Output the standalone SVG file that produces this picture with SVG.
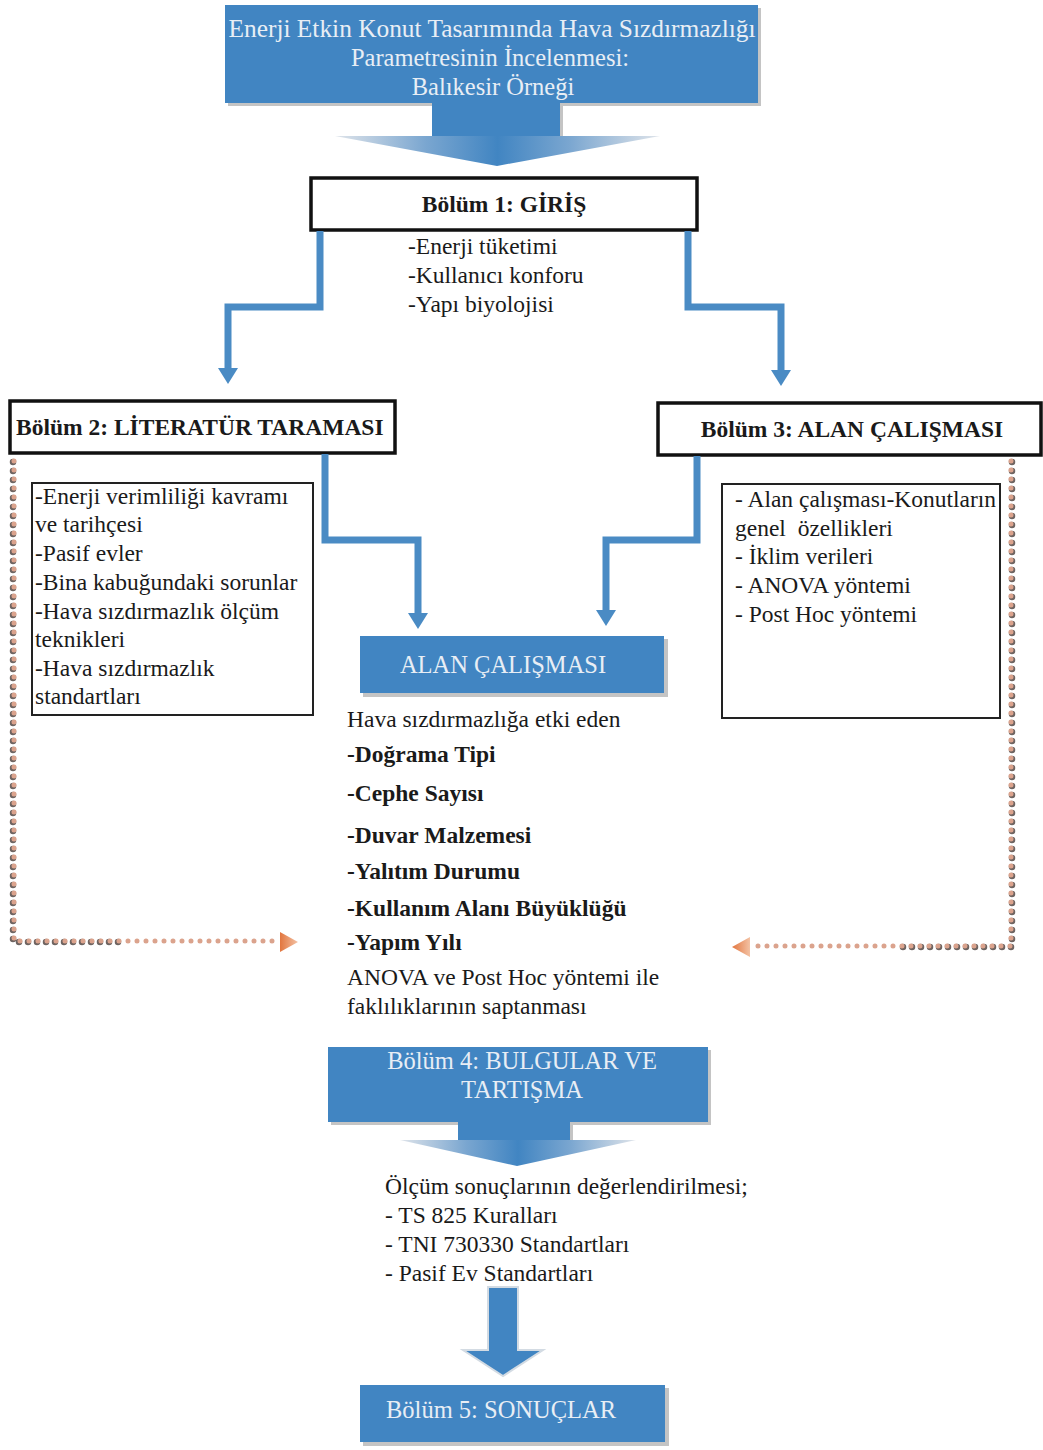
<svg xmlns="http://www.w3.org/2000/svg" width="1043" height="1450" viewBox="0 0 1043 1450">
<style>
  text { font-family: "Liberation Serif", "Times New Roman", serif; fill: #1a1a1a; }
  .t { font-size: 23.5px; }
  .b { font-size: 23.5px; font-weight: bold; }
  .lt { font-size: 24.5px; fill: #e8eef5; }
  .blk { fill: #ffffff; stroke: #111111; stroke-width: 3.5; }
  .thin { fill: #ffffff; stroke: #222222; stroke-width: 2; }
  .blue { fill: #4185c2; }
  .shadow { fill: #c4c4c4; }
  .conn { fill: none; stroke: #4a8bc4; stroke-width: 7; stroke-linejoin: miter; }
  .dotdark { fill: none; stroke: #6e6461; stroke-width: 6.5; stroke-linecap: round; stroke-dasharray: 0 9; }
  .dotlight { fill: none; stroke: #dba38d; stroke-width: 5; stroke-linecap: round; stroke-dasharray: 0 9; }
</style>
<defs>
  <marker id="ah" markerWidth="22" markerHeight="22" refX="2" refY="11" orient="auto" markerUnits="userSpaceOnUse">
    <path d="M0,1 L16,11 L0,21 z" fill="#4a8bc4"/>
  </marker>
  <linearGradient id="headg" x1="0" y1="0" x2="1" y2="0">
    <stop offset="0" stop-color="#dfe4ea"/>
    <stop offset="0.28" stop-color="#7aa6d0"/>
    <stop offset="0.5" stop-color="#4185c2"/>
    <stop offset="0.72" stop-color="#7aa6d0"/>
    <stop offset="1" stop-color="#dfe4ea"/>
  </linearGradient>
  <linearGradient id="orng" x1="0" y1="0" x2="1" y2="0">
    <stop offset="0" stop-color="#e2763f"/>
    <stop offset="1" stop-color="#f3c2a4"/>
  </linearGradient>
  <linearGradient id="orngL" x1="1" y1="0" x2="0" y2="0">
    <stop offset="0" stop-color="#f3c2a4"/>
    <stop offset="1" stop-color="#e2763f"/>
  </linearGradient>
  <clipPath id="rclip"><rect x="722" y="484" width="278" height="234"/></clipPath>
</defs>

<g id="title">
  <path class="shadow" d="M228,8 H761 V106 H563 V139 H436 V106 H228 Z"/>
  <path class="blue" d="M225,5 H758 V103 H560 V136 H432 V103 H225 Z"/>
  <path d="M335,136 H660 L497,166 Z" fill="url(#headg)"/>
  <text class="lt" x="492" y="37" text-anchor="middle" textLength="527" lengthAdjust="spacingAndGlyphs">Enerji Etkin Konut Tasarımında Hava Sızdırmazlığı</text>
  <text class="lt" x="490" y="66" text-anchor="middle">Parametresinin İncelenmesi:</text>
  <text class="lt" x="493" y="95" text-anchor="middle">Balıkesir Örneği</text>
</g>

<g id="bolum1">
  <rect class="blk" x="311" y="178" width="386" height="52"/>
  <text class="b" x="504" y="212" text-anchor="middle">Bölüm 1: GİRİŞ</text>
  <text class="t" x="408" y="254">-Enerji tüketimi</text>
  <text class="t" x="408" y="283">-Kullanıcı konforu</text>
  <text class="t" x="408" y="312">-Yapı biyolojisi</text>
</g>

<g id="bolum2">
  <rect class="blk" x="10" y="401" width="385" height="52"/>
  <text class="b" x="16" y="435">Bölüm 2: LİTERATÜR TARAMASI</text>
</g>

<g id="bolum3">
  <rect class="blk" x="658" y="403" width="383" height="52"/>
  <text class="b" x="852" y="437" text-anchor="middle">Bölüm 3: ALAN ÇALIŞMASI</text>
</g>

<g id="literatur-list">
  <rect class="thin" x="32" y="483" width="281" height="232"/>
  <text class="t" x="35" y="504">-Enerji verimliliği kavramı</text>
  <text class="t" x="35" y="532">ve tarihçesi</text>
  <text class="t" x="35" y="561">-Pasif evler</text>
  <text class="t" x="35" y="590">-Bina kabuğundaki sorunlar</text>
  <text class="t" x="35" y="619">-Hava sızdırmazlık ölçüm</text>
  <text class="t" x="35" y="647">teknikleri</text>
  <text class="t" x="35" y="676">-Hava sızdırmazlık</text>
  <text class="t" x="35" y="704">standartları</text>
</g>

<g id="alan-list">
  <rect class="thin" x="722" y="484" width="278" height="234"/>
  <g clip-path="url(#rclip)">
    <text class="t" x="735" y="507">- Alan çalışması-Konutların</text>
  </g>
  <text class="t" x="735" y="536" style="white-space: pre">genel  özellikleri</text>
  <text class="t" x="735" y="564">- İklim verileri</text>
  <text class="t" x="735" y="593">- ANOVA yöntemi</text>
  <text class="t" x="735" y="622">- Post Hoc yöntemi</text>
</g>

<g id="alan-calismasi">
  <rect class="shadow" x="363" y="639" width="305" height="58"/>
  <rect class="blue" x="360" y="636" width="304" height="57"/>
  <text class="lt" x="503" y="673" text-anchor="middle">ALAN ÇALIŞMASI</text>
  <text class="t" x="347" y="727">Hava sızdırmazlığa etki eden</text>
  <text class="b" x="347" y="762">-Doğrama Tipi</text>
  <text class="b" x="347" y="801">-Cephe Sayısı</text>
  <text class="b" x="347" y="843">-Duvar Malzemesi</text>
  <text class="b" x="347" y="879">-Yalıtım Durumu</text>
  <text class="b" x="347" y="916">-Kullanım Alanı Büyüklüğü</text>
  <text class="b" x="347" y="950">-Yapım Yılı</text>
  <text class="t" x="347" y="985">ANOVA ve Post Hoc yöntemi ile</text>
  <text class="t" x="347" y="1014">faklılıklarının saptanması</text>
</g>

<g id="bolum4">
  <path class="shadow" d="M331,1050 H711 V1125 H573 V1143 H462 V1125 H331 Z"/>
  <path class="blue" d="M328,1047 H708 V1122 H570 V1141 H458 V1122 H328 Z"/>
  <path d="M400,1140 H636 L517,1166 Z" fill="url(#headg)"/>
  <text class="lt" x="522" y="1069" text-anchor="middle">Bölüm 4: BULGULAR VE</text>
  <text class="lt" x="522" y="1098" text-anchor="middle">TARTIŞMA</text>
  <text class="t" x="385" y="1194">Ölçüm sonuçlarının değerlendirilmesi;</text>
  <text class="t" x="385" y="1223">- TS 825 Kuralları</text>
  <text class="t" x="385" y="1252">- TNI 730330 Standartları</text>
  <text class="t" x="385" y="1281">- Pasif Ev Standartları</text>
</g>

<g id="bolum5">
  <rect class="shadow" x="363" y="1388" width="306" height="58"/>
  <rect class="blue" x="360" y="1385" width="305" height="57"/>
  <text class="lt" x="386" y="1418">Bölüm 5: SONUÇLAR</text>
</g>

<g id="connectors">
  <path class="conn" d="M320,231 V307 H228 V370" marker-end="url(#ah)"/>
  <path class="conn" d="M688,231 V307 H781 V372" marker-end="url(#ah)"/>
  <path class="conn" d="M325,454 V540 H418 V615" marker-end="url(#ah)"/>
  <path class="conn" d="M697,456 V540 H606 V612" marker-end="url(#ah)"/>
  <path d="M488,1287 H518 V1350 H543 L503,1376 L463,1350 H488 Z" fill="#4185c2" stroke="#d3dbe3" stroke-width="2"/>
  <path class="dotdark" d="M13,462 V942 H120"/>
  <path class="dotlight" d="M14,461 V941 H280"/>
  <path d="M280,932 L298,942 L280,952 Z" fill="url(#orng)"/>
  <path class="dotdark" d="M1012,462 V947 H900"/>
  <path class="dotlight" d="M1011,461 V946 H750"/>
  <path d="M750,937 L732,947 L750,957 Z" fill="url(#orngL)"/>
</g>
</svg>
